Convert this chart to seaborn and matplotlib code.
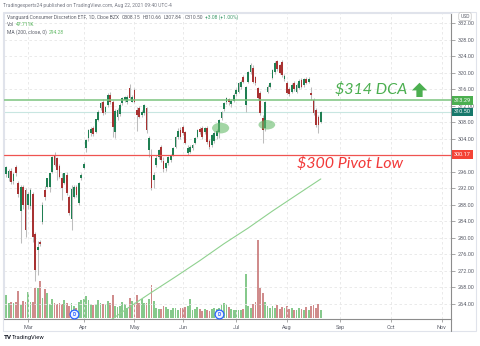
import numpy as np
import pandas as pd
import matplotlib
matplotlib.use("Agg")
import matplotlib.pyplot as plt
import matplotlib.transforms as mtransforms
from matplotlib.patches import Ellipse, Rectangle
from matplotlib.lines import Line2D
import seaborn as sns

# ---------------- data: VCR daily candles, Feb 16 - Aug 20 2021 ----------------
opens = [295.5, 294.6, 296.3, 293.8, 297.1, 293.2, 286.4, 292.3, 291.6, 288.0,
         287.7, 290.6, 281.0, 277.1, 279.0, 283.9, 291.6, 292.4, 292.4, 296.0,
         300.0, 299.3, 297.3, 294.4, 293.2, 295.2, 290.0, 284.5, 290.0, 292.4,
         288.4, 294.4, 297.0, 301.7, 304.1, 305.3, 306.5, 305.7, 308.6, 311.4,
         313.0, 310.6, 312.2, 314.6, 312.9, 305.6, 309.2, 310.0, 312.6, 313.4,
         312.9, 316.3, 313.0, 315.8, 311.0, 311.5, 309.8, 310.2, 311.5, 301.3,
         300.1, 294.0, 297.7, 299.6, 302.0, 298.6, 296.9, 298.1, 298.9, 300.1,
         302.0, 304.4, 306.1, 306.9, 305.6, 300.6, 300.8, 301.8, 303.0, 304.4,
         306.3, 306.6, 305.6, 306.6, 303.5, 302.5, 303.5, 304.6, 305.6, 309.0,
         311.2, 312.9, 313.6, 312.4, 313.2, 314.8, 315.3, 316.5, 319.0, 312.2,
         317.8, 320.2, 321.2, 319.0, 316.3, 315.1, 309.0, 306.6, 315.4, 316.5,
         318.7, 320.2, 322.8, 321.8, 322.6, 318.6, 317.5, 316.0, 315.4, 317.6,
         315.4, 316.4, 318.2, 317.0, 318.6, 317.8, 315.0, 313.4, 311.0, 309.2,
         308.15]
highs = [297.4, 296.8, 296.9, 296.0, 297.6, 293.8, 292.8, 292.7, 292.0, 291.0,
         292.0, 291.2, 281.5, 279.3, 279.5, 288.6, 292.5, 294.6, 295.8, 299.9,
         300.9, 299.5, 297.8, 295.6, 295.8, 296.0, 290.4, 292.8, 292.8, 292.9,
         293.6, 295.6, 298.4, 303.9, 306.3, 306.8, 307.0, 308.9, 310.9, 312.8,
         313.6, 312.0, 315.2, 315.3, 313.3, 311.2, 311.5, 312.6, 314.2, 314.3,
         314.5, 317.3, 314.5, 316.3, 311.8, 312.0, 310.9, 312.4, 311.8, 304.6,
         301.5, 296.0, 300.0, 301.6, 302.6, 299.5, 298.5, 299.9, 300.4, 302.0,
         304.6, 306.5, 306.8, 307.3, 306.0, 302.5, 302.4, 302.8, 304.5, 306.4,
         306.8, 307.0, 306.9, 307.0, 304.0, 305.2, 306.0, 306.4, 308.9, 310.8,
         312.9, 314.2, 314.0, 313.6, 315.0, 316.2, 317.8, 318.2, 319.5, 316.8,
         320.4, 322.4, 321.8, 319.3, 316.6, 315.6, 309.8, 313.2, 317.0, 317.8,
         320.9, 322.8, 323.2, 322.2, 323.0, 319.6, 318.0, 316.5, 317.6, 318.0,
         317.4, 318.4, 318.8, 318.8, 319.0, 319.0, 316.6, 313.8, 311.4, 309.8,
         310.66]
lows = [294.7, 293.8, 293.0, 293.0, 295.0, 289.8, 278.7, 287.0, 280.3, 287.0,
        287.0, 279.0, 269.5, 271.0, 278.0, 283.3, 289.2, 292.0, 291.2, 295.6,
        297.3, 294.0, 294.5, 289.3, 293.0, 290.5, 285.6, 282.0, 289.6, 289.8,
        288.0, 294.0, 296.6, 300.9, 303.5, 304.6, 304.6, 305.3, 308.2, 311.0,
        309.8, 310.0, 311.8, 312.5, 304.5, 304.2, 308.6, 309.5, 312.2, 313.0,
        312.4, 313.6, 312.8, 312.6, 306.0, 309.0, 309.2, 309.8, 305.5, 299.5,
        291.6, 292.0, 297.2, 299.0, 298.5, 296.0, 296.2, 297.6, 298.4, 299.8,
        301.8, 304.0, 304.0, 305.0, 302.8, 300.17, 300.5, 301.4, 302.7, 304.2,
        305.2, 304.0, 305.2, 302.8, 301.5, 302.0, 303.0, 304.0, 304.2, 308.6,
        310.8, 312.4, 312.2, 311.8, 313.0, 314.4, 315.0, 316.0, 317.4, 310.6,
        317.4, 319.8, 317.4, 317.0, 313.4, 309.8, 303.0, 305.8, 315.0, 316.2,
        318.4, 319.8, 320.4, 319.6, 319.0, 318.0, 314.8, 314.4, 315.0, 315.6,
        315.0, 316.0, 316.2, 316.6, 317.2, 317.4, 313.4, 309.8, 306.8, 305.4,
        307.84]
closes = [297.1, 296.3, 293.6, 295.4, 295.6, 290.6, 292.3, 288.0, 282.0, 290.6,
          291.6, 280.3, 272.2, 277.9, 278.5, 288.0, 290.0, 294.4, 295.6, 299.7,
          297.7, 296.4, 294.7, 292.0, 295.6, 290.8, 286.0, 291.8, 292.4, 290.4,
          293.2, 295.2, 298.0, 303.7, 306.1, 306.3, 305.2, 308.7, 310.6, 312.6,
          310.2, 311.6, 314.6, 313.0, 306.9, 310.8, 311.0, 312.2, 313.9, 314.0,
          314.1, 313.9, 314.1, 312.9, 309.8, 309.2, 310.5, 312.2, 306.1, 304.2,
          292.1, 295.2, 299.4, 301.3, 298.9, 296.6, 298.1, 299.6, 300.1, 301.8,
          304.4, 306.0, 304.4, 305.4, 303.0, 301.8, 302.0, 302.5, 304.2, 306.1,
          305.6, 304.4, 306.6, 303.2, 302.0, 304.9, 305.5, 306.0, 308.6, 310.5,
          312.6, 313.9, 312.8, 313.2, 314.6, 315.9, 317.5, 317.8, 317.8, 316.6,
          320.2, 321.9, 317.8, 317.5, 313.9, 310.2, 306.2, 312.9, 316.6, 317.5,
          320.7, 322.4, 321.0, 320.0, 319.4, 319.2, 315.1, 314.8, 317.0, 316.0,
          317.0, 318.0, 316.6, 318.4, 317.6, 318.6, 314.6, 310.2, 307.3, 307.42,
          310.50]
# daily volume, thousands of shares
volumes = [138, 90, 96, 90, 96, 162, 78, 102, 96, 156,
           96, 96, 180, 180, 222, 120, 174, 150, 84, 114,
           90, 84, 90, 84, 108, 90, 72, 90, 72, 60,
           96, 108, 114, 132, 108, 84, 78, 84, 108, 90,
           84, 84, 102, 90, 138, 72, 66, 72, 96, 84,
           60, 120, 102, 90, 138, 90, 114, 90, 90, 114,
           198, 102, 60, 54, 54, 72, 66, 54, 48, 60,
           60, 48, 60, 60, 66, 72, 114, 48, 54, 66,
           54, 42, 54, 48, 42, 54, 60, 54, 60, 78,
           90, 84, 66, 54, 48, 48, 48, 48, 54, 264,
           72, 60, 84, 96, 468, 180, 150, 96, 72, 60,
           72, 60, 78, 54, 66, 60, 72, 54, 60, 48,
           48, 60, 54, 48, 66, 48, 72, 78, 60, 84,
           47.711]
# 200-day moving average of the close, at selected sessions
ma_bar = [42, 50, 60, 70, 80, 90, 100, 110, 120, 130]
ma_200 = [259.6, 262.9, 266.8, 270.6, 274.5, 278.6, 282.4, 286.5, 290.4, 294.28]

month_labels = ["Mar", "Apr", "May", "Jun", "Jul", "Aug", "Sep", "Oct", "Nov"]
price_ticks = list(range(264, 333, 4))
dca_level = 313.29
pivot_low = 300.17
last_close = 310.50
dividend_days = ["2021-03-26", "2021-06-22"]
market_holidays = ["2021-02-15", "2021-04-02", "2021-05-31", "2021-07-05",
                   "2021-09-06", "2021-11-25"]

# ---------------- style ----------------
sns.set_theme(style="white")
plt.rcParams["font.family"] = ["Roboto", "DejaVu Sans"]

UP, DOWN = "#1f7f52", "#a83232"
VOL_UP, VOL_DOWN = "#86c98c", "#d08c8c"
WICK = "#bdbdbd"
GREEN_TXT = "#4caf50"
RED_TXT = "#f23a3a"
GRAY_TXT = "#5d606b"

W, H = 480, 346
fig = plt.figure(figsize=(W / 100, H / 100), dpi=100)
fig.patch.set_facecolor("white")


def fx(px):
    return px / W


def fy(py):
    return 1 - py / H


L, R, T, B = 4, 451, 13, 319
ax = fig.add_axes([fx(L), fy(B), (R - L) / W, (B - T) / H])
axv = ax.twinx()
axv.set_zorder(ax.get_zorder() - 1)
ax.patch.set_visible(False)
axv.axis("off")

# session calendar (trading days) used as the x scale
cal = pd.bdate_range("2021-02-16", "2021-11-30", freq="C", holidays=market_holidays)
n = len(closes)
bars = np.arange(n)
o, h, l, c = map(np.asarray, (opens, highs, lows, closes))
rising = c >= o

BAR_PX, X0 = 2.42, 6.2
PX_PER_USD = 4.13
ax.set_xlim((L - X0) / BAR_PX, (R - X0) / BAR_PX)
ax.set_ylim(264 - (B - 304) / PX_PER_USD, 264 + (304 - T) / PX_PER_USD)
vol_per_px = 6.0
axv.set_ylim(-0.7 * vol_per_px, (B - T - 0.7) * vol_per_px)

# volume
axv.bar(bars, volumes, width=0.74, color=np.where(rising, VOL_UP, VOL_DOWN), linewidth=0)

# candles
ax.vlines(bars, l, h, color=WICK, lw=0.75, zorder=3)
body_lo = np.minimum(o, c)
body_h = np.maximum(np.abs(c - o), 0.18)
ax.bar(bars, body_h, bottom=body_lo, width=0.72,
       color=np.where(rising, UP, DOWN), linewidth=0, zorder=4)

# 200-day MA
sns.lineplot(x=ma_bar, y=ma_200, ax=ax, color="#8fd18f", lw=0.8, legend=False, zorder=3)

# horizontal levels
ax.axhline(last_close, color="#c8e6e1", lw=0.8, zorder=2)
ax.axhline(dca_level, color="#7cc47f", lw=1.1, zorder=5)
ax.axhline(pivot_low, color="#ef5350", lw=0.9, zorder=5)

# grid and ticks; the 300 label sits under the pivot tag, so it is left blank
month_pos = [int(np.argmax(cal.month == m)) for m in range(3, 12)]
ax.set_xticks(month_pos)
ax.set_xticklabels(month_labels)
ax.set_yticks(price_ticks)
ax.set_yticklabels(["" if abs(v - pivot_low) < 1 else f"{v:.2f}" for v in price_ticks])
ax.yaxis.tick_right()
ax.grid(True, color="#e6e6e6", lw=0.6, ls=(0, (3, 3)))
ax.tick_params(axis="y", right=True, left=False, length=3, width=0.6, color="#9a9a9a",
               labelsize=4, labelcolor=GRAY_TXT, pad=2)
ax.tick_params(axis="x", bottom=True, length=2.5, width=0.6, color="#9a9a9a",
               labelsize=4, labelcolor=GRAY_TXT, pad=2)
for side in ("left", "top"):
    ax.spines[side].set_color("#e0e3eb")
    ax.spines[side].set_linewidth(0.8)
for side in ("right", "bottom"):
    ax.spines[side].set_color("#8c8c8c")
    ax.spines[side].set_linewidth(0.8)

# outer frame and price-scale divider
fig.add_artist(Rectangle((fx(3), fy(331)), (476 - 3) / W, (331 - 12) / H,
                         transform=fig.transFigure, fill=False, ec="#e0e3eb", lw=0.8))
fig.add_artist(Line2D([fx(R), fx(R)], [fy(B), fy(331)], transform=fig.transFigure,
                      color="#8c8c8c", lw=0.8))

# price labels on the scale
ty = mtransforms.blended_transform_factory(ax.transAxes, ax.transData)
for val, col in [(dca_level, "#4caf50"), (last_close, "#17796b"), (pivot_low, "#f44336")]:
    ax.text(1.0 + 3 / (R - L), val, f"{val:.2f}", transform=ty, ha="left", va="center",
            fontsize=4, color="white", zorder=10, clip_on=False,
            bbox=dict(boxstyle="square,pad=0.3", fc=col, ec="none"))
fig.text(fx(465), fy(16.5), "USD", fontsize=3.6, color=GRAY_TXT, ha="center", va="center",
         bbox=dict(boxstyle="round,pad=0.3,rounding_size=0.4", fc="white", ec="#c4c4c4", lw=0.5))

# retest zones
ax.add_patch(Ellipse((88.6, 306.6), 7.1, 2.6, fc="#66bb6a", alpha=0.6, ec="none", zorder=6))
ax.add_patch(Ellipse((107.7, 307.4), 6.9, 2.3, fc="#66bb6a", alpha=0.6, ec="none", zorder=6))

# trade notes
ax.text(0.7405, 0.75, r"\$314 DCA", transform=ax.transAxes, fontsize=11.5, style="italic",
        color=GREEN_TXT, ha="left", va="center", zorder=9, family=["Lato", "DejaVu Sans"])
ax.annotate("", xy=(0.9295, 0.772), xytext=(0.9295, 0.7255), xycoords="axes fraction",
            arrowprops=dict(arrowstyle="simple,head_length=0.55,head_width=1.1,tail_width=0.45",
                            fc=GREEN_TXT, ec="none", mutation_scale=10, shrinkA=0, shrinkB=0),
            zorder=9)
ax.text(0.6555, 0.5098, r"\$300 Pivot Low", transform=ax.transAxes, fontsize=11.5,
        style="italic", color=RED_TXT, ha="left", va="center", zorder=9,
        family=["Lato", "DejaVu Sans"])

# dividend markers
tx = mtransforms.blended_transform_factory(ax.transData, ax.transAxes)
for d in dividend_days:
    pos = cal.get_loc(pd.Timestamp(d))
    ax.plot([pos], [0.0163], transform=tx, marker="o", ms=6.3, mfc="#eef3ff", mec="#2962ff",
            mew=0.9, zorder=8, clip_on=False)
    ax.text(pos, 0.0163, "D", transform=tx, fontsize=3.6, color="#2962ff", ha="center",
            va="center", zorder=9, fontweight="bold")

# header and legend lines
renderer = fig.canvas.get_renderer()


def write_parts(x_px, y_px, parts, size, gap=0.0):
    x = x_px
    for text, col in parts:
        t = fig.text(fx(x), fy(y_px), text, fontsize=size, color=col, ha="left", va="center")
        x += t.get_window_extent(renderer=renderer).width + gap


fig.text(fx(3), fy(5.5), "Tradingexperts24 published on TradingView.com, Aug 22, 2021 09:40 UTC-4",
         fontsize=3.6, color="#787b86", ha="left", va="center")
write_parts(7, 17.5, [("Vanguard Consumer Discretion ETF, 1D, Cboe BZX", GRAY_TXT),
                      ("O308.15", GRAY_TXT), ("H310.66", GRAY_TXT), ("L307.84", GRAY_TXT),
                      ("C310.50", GRAY_TXT), ("+3.08 (+1.00%)", "#3f9a6b")], 3.6, gap=2.5)
write_parts(7, 25, [("Vol", GRAY_TXT), ("47.711K", GREEN_TXT)], 3.6, gap=2.0)
write_parts(7, 32.5, [("MA (200, close, 0)", GRAY_TXT), ("294.28", "#66bb6a")], 3.6, gap=2.0)

# footer
fig.text(fx(3.5), fy(337.5), "TV", fontsize=4.6, fontweight="bold", color="#131722",
         ha="left", va="center")
fig.text(fx(12), fy(337.5), "TradingView", fontsize=4.2, color="#131722", ha="left", va="center")

fig.savefig("out.png", dpi=100)
